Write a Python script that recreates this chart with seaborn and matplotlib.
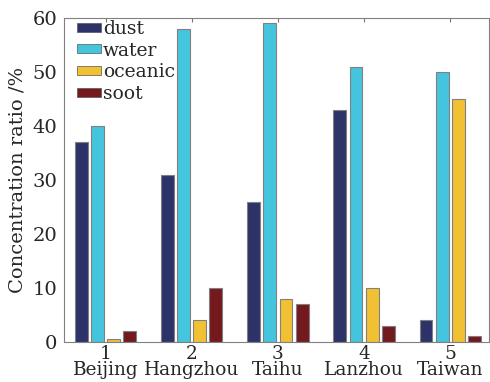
import pandas as pd
import numpy as np
import matplotlib.pyplot as plt
import seaborn as sns

# --- data ---
sites = ["1\nBeijing", "2\nHangzhou", "3\nTaihu", "4\nLanzhou", "5\nTaiwan"]
components = ["dust", "water", "oceanic", "soot"]
dust = [37, 31, 26, 43, 4]
water = [40, 58, 59, 51, 50]
oceanic = [0.6, 4, 8, 10, 45]
soot = [2, 10, 7, 3, 1]
colors = ["#2d3369", "#45c4de", "#f2c133", "#741a1e"]

rows = []
for comp, vals in zip(components, [dust, water, oceanic, soot]):
    for s, v in zip(sites, vals):
        rows.append({"site": s, "component": comp, "value": v})
df = pd.DataFrame(rows)

sns.set_style("white")
plt.rcParams["font.family"] = ["DejaVu Serif"]

fig = plt.figure(figsize=(4.9, 3.82), dpi=100)
ax = fig.add_axes([0.131, 0.105, 0.867, 0.848])

sns.barplot(data=df, x="site", y="value", hue="component", order=sites,
            hue_order=components, palette=colors, saturation=1,
            width=0.75, gap=0.2, edgecolor="#808080", linewidth=0.8, ax=ax)

ax.set_ylim(0, 60)
ax.set_xlim(-0.48, 4.45)
ax.set_yticks(range(0, 61, 10))
ax.set_xlabel("")
ax.set_ylabel("Concentration ratio /%", fontsize=14)
ax.tick_params(axis="y", direction="out", length=3, labelsize=14, pad=2, color="#555555")
ax.tick_params(axis="x", direction="in", length=3, labelsize=13.3, pad=2,
               top=True, color="#777777")
for lab in ax.get_xticklabels():
    lab.set_linespacing(0.9)
for sp in ax.spines.values():
    sp.set_color("#808080")
    sp.set_linewidth(0.8)

leg = ax.legend(loc="upper left", frameon=False, fontsize=13.5, handlelength=1.3,
                handleheight=0.35, handletextpad=0.1, labelspacing=0.2,
                borderaxespad=0.0, borderpad=0.1, bbox_to_anchor=(0.025, 1.0))
for h in leg.legend_handles:
    h.set_edgecolor("#555555")
    h.set_linewidth(0.5)

fig.savefig("out.png", dpi=100)
